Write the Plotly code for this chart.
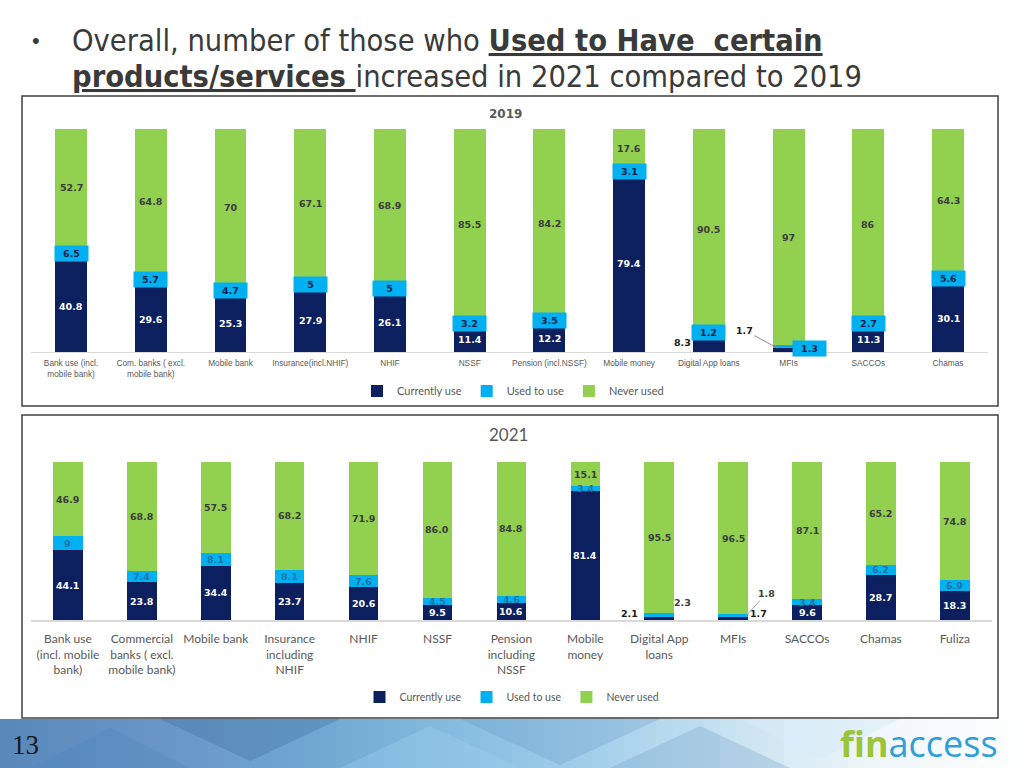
import plotly.graph_objects as go

# ---------------- data ----------------
series_names = ["Currently use", "Used to use", "Never used"]

cats_2019 = ["Bank use (incl.<br>mobile bank)", "Com. banks ( excl.<br>mobile bank)", "Mobile bank",
             "Insurance(incl.NHIF)", "NHIF", "NSSF", "Pension (incl.NSSF)", "Mobile money",
             "Digital App loans", "MFIs", "SACCOs", "Chamas"]
cur_2019 = [40.8, 29.6, 25.3, 27.9, 26.1, 11.4, 12.2, 79.4, 8.3, 1.7, 11.3, 30.1]
used_2019 = [6.5, 5.7, 4.7, 5, 5, 3.2, 3.5, 3.1, 1.2, 1.3, 2.7, 5.6]
never_2019 = [52.7, 64.8, 70, 67.1, 68.9, 85.5, 84.2, 17.6, 90.5, 97, 86, 64.3]

cats_2021 = ["Bank use<br>(incl. mobile<br>bank)", "Commercial<br>banks ( excl.<br>mobile bank)", "Mobile bank",
             "Insurance<br>including<br>NHIF", "NHIF", "NSSF", "Pension<br>including<br>NSSF", "Mobile<br>money",
             "Digital App<br>loans", "MFIs", "SACCOs", "Chamas", "Fuliza"]
cur_2021 = [44.1, 23.8, 34.4, 23.7, 20.6, 9.5, 10.6, 81.4, 2.1, 1.7, 9.6, 28.7, 18.3]
used_2021 = [9, 7.4, 8.1, 8.1, 7.6, 4.5, 4.6, 3.4, 2.3, 1.8, 3.4, 6.2, 6.9]
never_2021 = [46.9, 68.8, 57.5, 68.2, 71.9, 86.0, 84.8, 15.1, 95.5, 96.5, 87.1, 65.2, 74.8]
never_2021_text = ["46.9", "68.8", "57.5", "68.2", "71.9", "86.0", "84.8", "15.1", "95.5", "96.5", "87.1", "65.2", "74.8"]

NAVY = "#0c2060"
CYAN = "#00b0f0"
GREEN = "#92d050"
COLORS = [NAVY, CYAN, GREEN]

W, H = 1024, 768
def X(px): return px / W
def Y(py): return 1 - py / H
def fmt(v): return "%g" % v

fig = go.Figure()

# ---------------- bars ----------------
for name, vals, col in zip(series_names, [cur_2019, used_2019, never_2019], COLORS):
    fig.add_trace(go.Bar(x=cats_2019, y=vals, name=name, marker=dict(color=col, line=dict(width=0)),
                         xaxis="x", yaxis="y", legend="legend", hoverinfo="skip"))
for name, vals, col in zip(series_names, [cur_2021, used_2021, never_2021], COLORS):
    fig.add_trace(go.Bar(x=cats_2021, y=vals, name=name, marker=dict(color=col, line=dict(width=0)),
                         xaxis="x2", yaxis="y2", legend="legend2", hoverinfo="skip"))

ann = []
LBL = "DejaVu Sans"

# ---------------- 2019 labels ----------------
for i, c in enumerate(cats_2019):
    a, b, n = cur_2019[i], used_2019[i], never_2019[i]
    if i == 8:
        ann.append(dict(x=c, y=a / 2, xref="x", yref="y", text="<b>%s</b>" % fmt(a), showarrow=False,
                        xshift=-26, font=dict(family=LBL, size=9.5, color="#1a1a1a")))
    elif i == 9:
        ann.append(dict(x=c, y=a, xref="x", yref="y", text="<b>%s</b>" % fmt(a), showarrow=True,
                        arrowhead=0, arrowwidth=1, arrowcolor="#8c8c8c", xshift=-11, ax=-33, ay=-18,
                        font=dict(family=LBL, size=9.5, color="#1a1a1a")))
    else:
        ann.append(dict(x=c, y=a / 2, xref="x", yref="y", text="<b>%s</b>" % fmt(a), showarrow=False,
                        font=dict(family=LBL, size=9.5, color="white")))
    xs, ys = (21, -2) if i == 9 else (0, 0)
    ann.append(dict(x=c, y=a + b / 2, xref="x", yref="y", text="<b>%s</b>" % fmt(b), showarrow=False,
                    xshift=xs, yshift=ys, bgcolor=CYAN, width=31, height=13, borderpad=1,
                    font=dict(family=LBL, size=9.5, color="#0c1f4a")))
    ann.append(dict(x=c, y=a + b + n / 2, xref="x", yref="y", text="<b>%s</b>" % fmt(n), showarrow=False,
                    font=dict(family=LBL, size=9.5, color="#3c3c3c")))

# ---------------- 2021 labels ----------------
for i, c in enumerate(cats_2021):
    a, b, n = cur_2021[i], used_2021[i], never_2021[i]
    if i == 8:
        ann.append(dict(x=c, y=a / 2, xref="x2", yref="y2", text="<b>%s</b>" % fmt(a), showarrow=False,
                        xshift=-30, yshift=5, font=dict(family=LBL, size=9.5, color="#1a1a1a")))
        ann.append(dict(x=c, y=a + b / 2, xref="x2", yref="y2", text="<b>%s</b>" % fmt(b), showarrow=False,
                        xshift=23, yshift=12, font=dict(family=LBL, size=9.5, color="#404040")))
    elif i == 9:
        ann.append(dict(x=c, y=a / 2, xref="x2", yref="y2", text="<b>%s</b>" % fmt(a), showarrow=False,
                        xshift=25, yshift=5, font=dict(family=LBL, size=9.5, color="#1a1a1a")))
        ann.append(dict(x=c, y=a + b / 2, xref="x2", yref="y2", text="<b>%s</b>" % fmt(b), showarrow=True,
                        arrowhead=0, arrowwidth=1, arrowcolor="#a0a0a0", xshift=13, ax=20, ay=-22,
                        font=dict(family=LBL, size=9.5, color="#404040")))
    else:
        ann.append(dict(x=c, y=a / 2, xref="x2", yref="y2", text="<b>%s</b>" % fmt(a), showarrow=False,
                        font=dict(family=LBL, size=9.5, color="white")))
        ann.append(dict(x=c, y=a + b / 2, xref="x2", yref="y2", text="<b>%s</b>" % fmt(b), showarrow=False,
                        font=dict(family=LBL, size=9.5, color="#1c75a8")))
    ann.append(dict(x=c, y=a + b + n / 2, xref="x2", yref="y2", text="<b>%s</b>" % never_2021_text[i],
                    showarrow=False, font=dict(family=LBL, size=9.5, color="#3c3c3c")))

# ---------------- titles / text ----------------
TF = "Liberation Sans Narrow, DejaVu Sans Condensed, Roboto Condensed, Liberation Sans"
def P(**kw):
    d = dict(xref="paper", yref="paper", showarrow=False, xanchor="center", yanchor="middle")
    d.update(kw)
    return d
ann += [
    P(x=X(36), y=Y(41), text="•", font=dict(family="Liberation Sans", size=22, color="#3a3a3a")),
    P(x=X(70), y=Y(40), xanchor="left", text="Overall, number of those who <b><u>Used to Have  certain</u></b>",
      font=dict(family=TF, size=30.5, color="#3a3a3a")),
    P(x=X(70), y=Y(77), xanchor="left", text="<b><u>products/services </u></b>increased in 2021 compared to 2019",
      font=dict(family=TF, size=30.5, color="#3a3a3a")),
    P(x=X(505), y=Y(114), text="<b>2019</b>", font=dict(family="DejaVu Sans", size=12, color="#595959")),
    P(x=X(508), y=Y(434), text="2021", font=dict(family="Lato", size=17, color="#595959")),
    P(x=X(25), y=Y(745), text="13", font=dict(family="Liberation Serif", size=27, color="#1a1a1a")),
    P(x=X(1000), y=Y(743), xanchor="right",
      text="<span style='color:#9cc43a'><b>fin</b></span><span style='color:#2f9fd8'>access</span>",
      font=dict(family="Open Sans", size=36)),
]

# ---------------- decorative shapes ----------------
shapes = []
stops = [(0, (88, 135, 186)), (160, (104, 150, 198)), (320, (112, 168, 210)), (480, (138, 192, 226)),
         (620, (170, 211, 236)), (760, (208, 230, 243)), (880, (240, 247, 251)), (1024, (255, 255, 255))]
def col_at(px):
    for (x0, c0), (x1, c1) in zip(stops[:-1], stops[1:]):
        if x0 <= px <= x1:
            t = (px - x0) / (x1 - x0)
            return "rgb(%d,%d,%d)" % tuple(round(c0[k] + (c1[k] - c0[k]) * t) for k in range(3))
    return "rgb(255,255,255)"
step = 16
for k in range(0, W, step):
    shapes.append(dict(type="rect", xref="paper", yref="paper", x0=X(k), x1=X(k + step + 1),
                       y0=Y(768), y1=Y(719), fillcolor=col_at(k + step / 2), line=dict(width=0), layer="below"))
def diamond(cx, cy, rx, ry, color, op):
    p = "M %f %f L %f %f L %f %f L %f %f Z" % (X(cx - rx), Y(cy), X(cx), Y(cy - ry), X(cx + rx), Y(cy), X(cx), Y(cy + ry))
    return dict(type="path", xref="paper", yref="paper", path=p, fillcolor=color, opacity=op,
                line=dict(width=0), layer="below")
shapes += [
    diamond(250, 719, 90, 42, "#3f6f9f", 0.35),
    diamond(110, 768, 80, 40, "#4f86bd", 0.35),
    diamond(430, 768, 90, 42, "#9fd0ee", 0.35),
    diamond(560, 719, 100, 46, "#5f8fbf", 0.25),
    diamond(700, 768, 90, 42, "#6fa0c8", 0.3),
    diamond(820, 719, 80, 40, "#d8ecf7", 0.5),
]
shapes += [
    dict(type="rect", xref="paper", yref="paper", x0=X(22), x1=X(998), y0=Y(406), y1=Y(96),
         line=dict(color="#404040", width=1.5), fillcolor="rgba(0,0,0,0)"),
    dict(type="rect", xref="paper", yref="paper", x0=X(22), x1=X(998), y0=Y(718), y1=Y(415),
         line=dict(color="#404040", width=1.5), fillcolor="white", layer="below"),
]

fig.update_layout(
    width=W, height=H, margin=dict(l=0, r=0, t=0, b=0),
    paper_bgcolor="white", plot_bgcolor="rgba(0,0,0,0)",
    barmode="stack", bargap=0.6, showlegend=True,
    annotations=ann, shapes=shapes,
    xaxis=dict(domain=[X(31.2), X(987.9)], anchor="y", showline=True, linecolor="#d9d9d9", linewidth=1,
               ticks="outside", ticklen=3, tickcolor="rgba(0,0,0,0)", showgrid=False, fixedrange=True,
               tickfont=dict(family="Liberation Sans", size=8.3, color="#595959"), tickangle=0),
    yaxis=dict(domain=[Y(352), Y(129)], anchor="x", range=[0, 100], visible=False, fixedrange=True),
    xaxis2=dict(domain=[X(31), X(991.8)], anchor="y2", showline=True, linecolor="#d9d9d9", linewidth=1.5,
                ticks="outside", ticklen=7, tickcolor="rgba(0,0,0,0)", showgrid=False, fixedrange=True,
                tickfont=dict(family="Lato", size=12, color="#595959"), tickangle=0),
    yaxis2=dict(domain=[Y(620), Y(462)], anchor="x2", range=[0, 100], visible=False, fixedrange=True),
    legend=dict(orientation="h", x=X(513), y=Y(391), xanchor="center", yanchor="middle", traceorder="normal",
                font=dict(family="Lato", size=11, color="#595959"), bgcolor="rgba(0,0,0,0)"),
    legend2=dict(orientation="h", x=X(512), y=Y(697), xanchor="center", yanchor="middle", traceorder="normal",
                 font=dict(family="Lato", size=10.5, color="#595959"), bgcolor="rgba(0,0,0,0)"),
)

fig.write_html("out.html", config={"displayModeBar": False},
               post_script="document.body.style.margin='0px';")
